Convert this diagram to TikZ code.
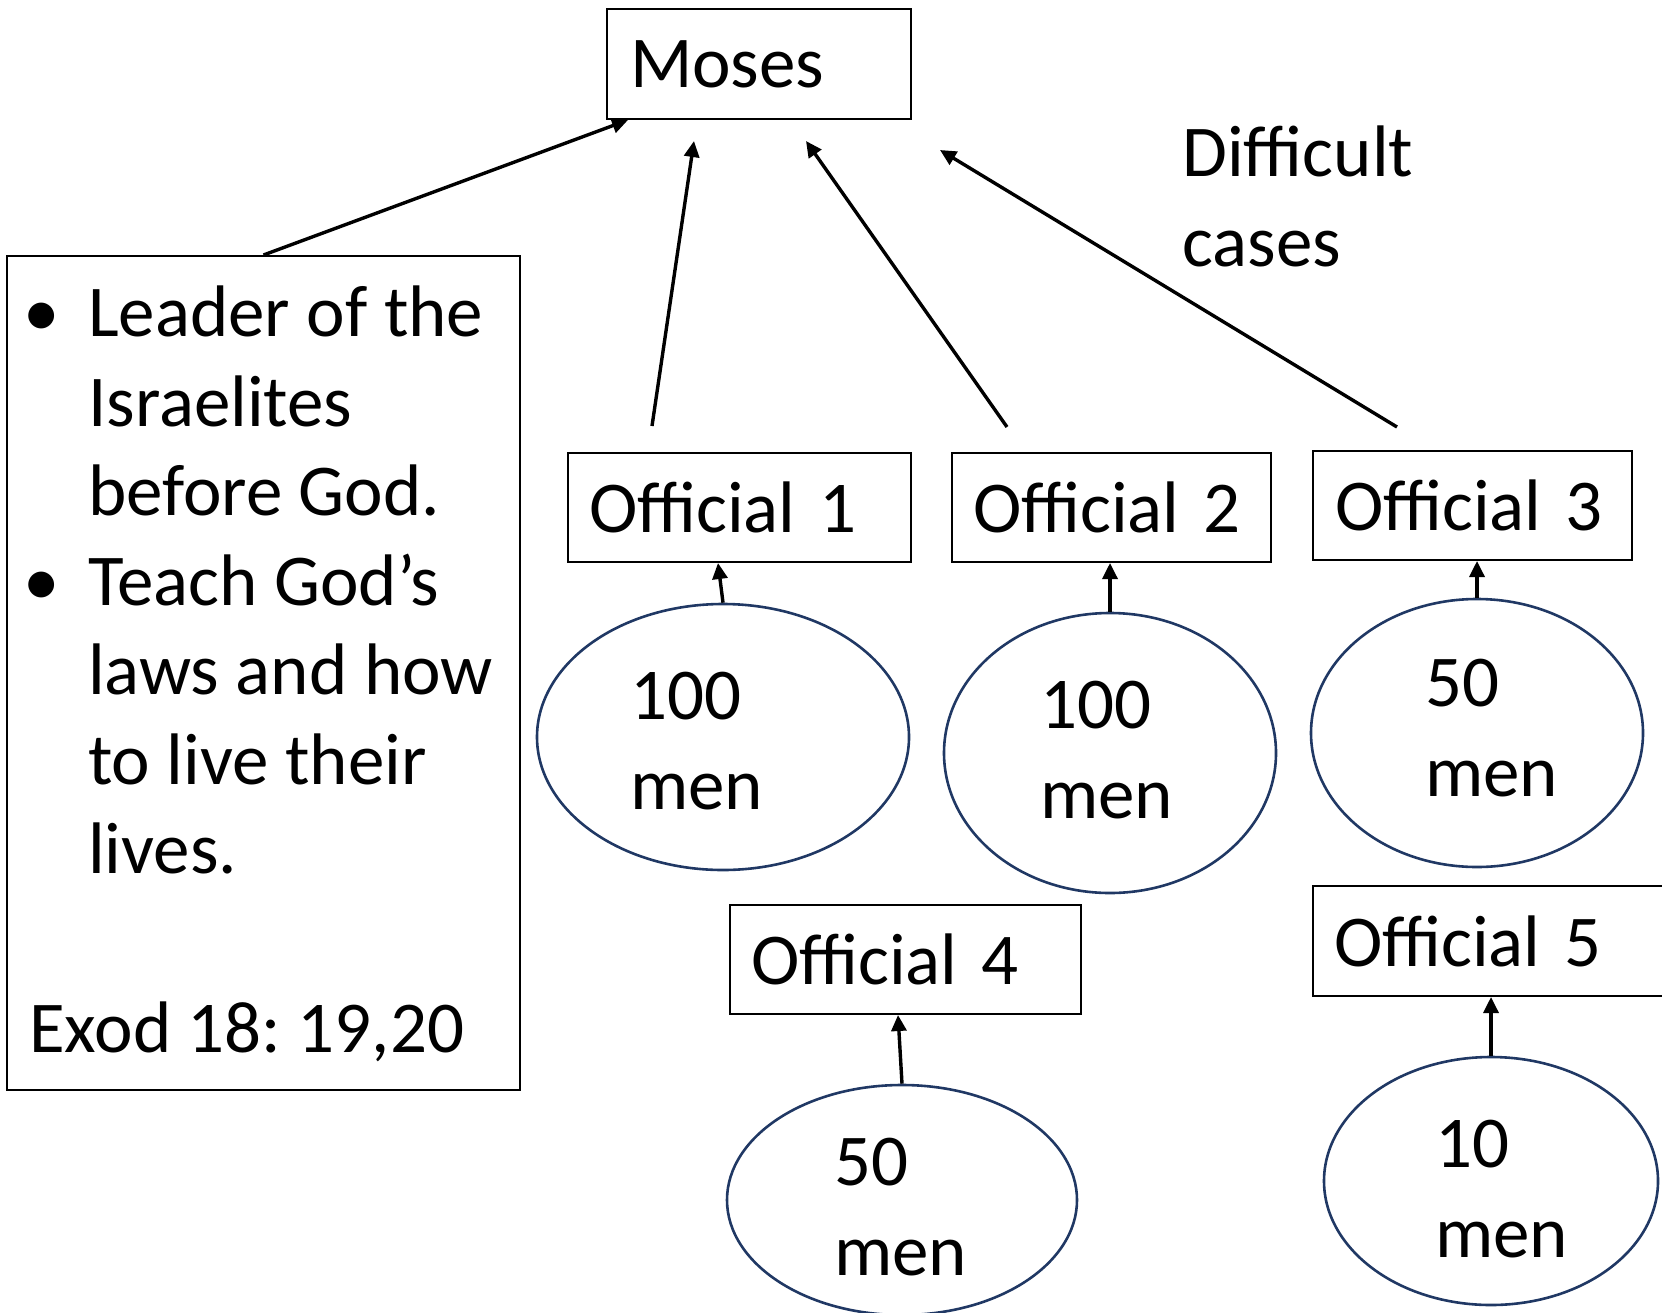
\documentclass[tikz,border=0pt]{standalone}
\usepackage{fontspec}
\setmainfont{Carlito}
\usetikzlibrary{arrows.meta,shapes.geometric,calc}
\definecolor{navy}{RGB}{32,56,100}
\frenchspacing
\tikzset{
  box/.style={draw, line width=2pt, inner ysep=0pt, anchor=north west, align=left},
  men/.style={draw=navy, line width=2.6pt, ellipse, inner sep=0pt},
  words/.style={anchor=north west, inner sep=0pt, align=left},
  toboss/.style={-{Triangle[length=16pt,width=15pt]}, line width=3.4pt},
}
\begin{document}
\begin{tikzpicture}[x=1pt, y=-1pt, font=\fontsize{73}{89.5}\selectfont]
\useasboundingbox (0,0) rectangle (1662,1312);

\node[box, inner xsep=23pt, text width=258pt, minimum height=110pt] (moses) at (606,8) {Moses};
\node[words] (hard) at (1182,126) {Difficult\\cases};

% the left box
\node[draw, line width=2pt, anchor=north west, minimum width=513pt, minimum height=834pt] (lead) at (6,255) {};
\node[words] (pts) at (29,286) {%
\makebox[59pt][l]{\hspace{-6pt}•}Leader of the\\
\hspace*{59pt}Israelites\\
\hspace*{59pt}before God.\\
\makebox[59pt][l]{\hspace{-6pt}•}Teach God’s\\
\hspace*{59pt}laws and how\\
\hspace*{59pt}to live their\\
\hspace*{59pt}lives.\\[89.5pt]
Exod 18: 19,20};

% officials
\node[box, inner xsep=21pt, text width=301pt, minimum height=109pt] (o1) at (567,452) {Official 1};
\node[box, inner xsep=21pt, text width=277pt, minimum height=109pt] (o2) at (951,452) {Official 2};
\node[box, inner xsep=22pt, text width=275pt, minimum height=109pt] (o3) at (1312,450) {Official 3};
\node[box, inner xsep=21pt, text width=309pt, minimum height=109pt] (o4) at (729,904) {Official 4};
\node[box, inner xsep=21pt, text width=326pt, minimum height=110pt] (o5) at (1312,885) {Official 5};

% groups of men
\node[men, minimum width=372pt, minimum height=266pt] (e1) at (723,737) {};
\node[men, minimum width=332pt, minimum height=280pt] (e2) at (1110,753) {};
\node[men, minimum width=332pt, minimum height=268pt] (e3) at (1477,733) {};
\node[men, minimum width=350pt, minimum height=230pt] (e4) at (902,1200) {};
\node[men, minimum width=334pt, minimum height=248pt] (e5) at (1491,1181) {};
\node[words] (n1) at (630,672) {100\\men};
\node[words] (n2) at (1040,681) {100\\men};
\node[words] (n3) at (1425,659) {50\\men};
\node[words] (n4) at (834,1138) {50\\men};
\node[words] (n5) at (1435,1120) {10\\men};

% up to Moses
\coordinate (f1) at (652,426);
\coordinate (t1) at (694,141);
\coordinate (f2) at (1007,427);
\coordinate (t2) at (806,141);
\coordinate (f3) at (1397,427);
\coordinate (t3) at (940,150);
\draw[toboss] (lead.north) -- ([xshift=22pt]moses.south west);
\draw[toboss] (f1) -- (t1);
\draw[toboss] (f2) -- (t2);
\draw[toboss] (f3) -- (t3);

% up to the officials
\draw[toboss] (e1.north) -- ($(e1.north |- o1.south)+(-5,0)$);
\draw[toboss] (e2.north) -- (e2.north |- o2.south);
\draw[toboss] (e3.north) -- (e3.north |- o3.south);
\draw[toboss] (e4.north) -- ($(e4.north |- o4.south)+(-4,0)$);
\draw[toboss] (e5.north) -- (e5.north |- o5.south);
\end{tikzpicture}
\end{document}
